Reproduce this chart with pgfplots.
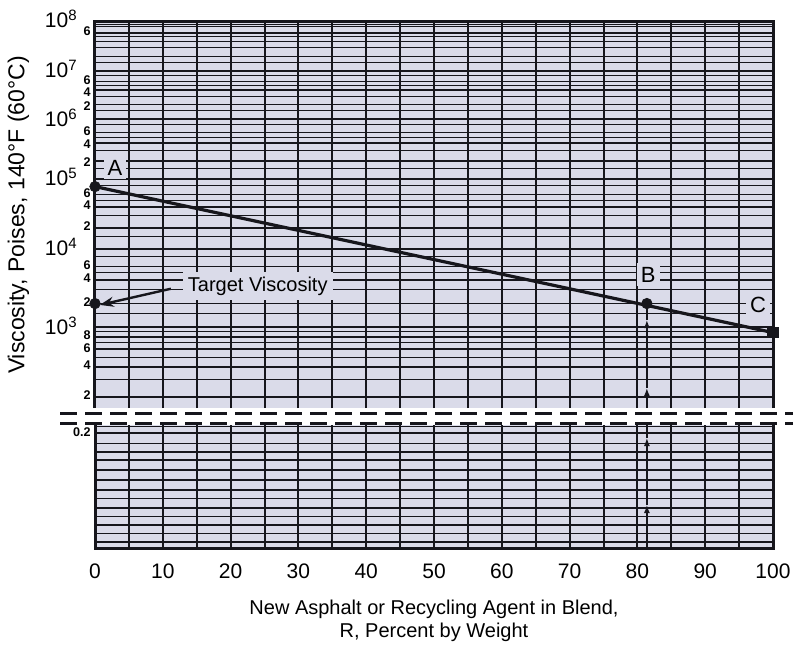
\documentclass[border=0pt]{standalone}
\usepackage{fontspec}
\setmainfont{Liberation Sans}
\usepackage{pgfplots}
\pgfplotsset{compat=1.18}
\usetikzlibrary{arrows.meta}
\definecolor{bgc}{RGB}{218,219,233}
\definecolor{gl}{RGB}{22,22,28}

% piecewise mapping of log10(viscosity) to chart position (px above the 10^3 line)
\newcommand\vtrafo[1]{%
  \begingroup
    \pgfkeys{/pgf/fpu=true,/pgf/fpu/output format=fixed}%
    \pgfmathparse{ln(#1)/2.302585093}%
    \xdef\vL{\pgfmathresult}%
  \endgroup
  \begingroup
    \pgfkeys{/pgf/fpu=false}%
    \ifdim\vL pt<3pt
      \pgfmathparse{100*(\vL-3)}%
    \else\ifdim\vL pt<4pt
      \pgfmathparse{78*(\vL-3)}%
    \else\ifdim\vL pt<5pt
      \pgfmathparse{78+70*(\vL-4)}%
    \else\ifdim\vL pt<6pt
      \pgfmathparse{148+60*(\vL-5)}%
    \else\ifdim\vL pt<7pt
      \pgfmathparse{208+48*(\vL-6)}%
    \else
      \pgfmathparse{256+49*(\vL-7)}%
    \fi\fi\fi\fi\fi
    \xdef\vP{\pgfmathresult}%
  \endgroup
  \let\pgfmathresult\vP
}
\newcommand\dec[1]{\mbox{10\raisebox{3.5pt}{\fontsize{7.5}{8}\selectfont #1}\kern 9pt}}
\newcommand\mn[1]{\mbox{\raisebox{-2.2pt}[0pt][0pt]{\fontsize{6.3}{7}\selectfont\bfseries #1}\kern 2pt}}
\newcommand\mnl[1]{\mbox{\raisebox{-3.8pt}[0pt][0pt]{\fontsize{6.3}{7}\selectfont\bfseries #1}\kern 2pt}}

\pgfplotsset{
  chartgrid/.style={
    scale only axis, width=339pt,
    xmin=0, xmax=100,
    axis line style={draw=none},
    axis background/.style={fill=bgc},
    xtick={0,10,...,100},
    extra x ticks={5,15,...,95}, extra x tick labels={},
    extra x tick style={grid=major, major grid style={gl,line width=1pt}},
    grid=both,
    major grid style={gl,line width=1pt},
    minor grid style={gl,line width=0.45pt},
    tick style={draw=none},
    major tick length=0pt, minor tick length=0pt,
    yticklabel style={font=\fontsize{10.5}{12}\selectfont, inner sep=0pt, anchor=east, yshift=0.8pt},
    clip=false,
  }
}

\begin{document}
\begin{tikzpicture}
\path[use as bounding box] (0pt,0pt) rectangle (396.5pt,-324.5pt);

% ---------- upper part ----------
\begin{axis}[chartgrid,
  at={(47.5pt,-204pt)}, anchor=south west, height=193pt,
  ymin=155, ymax=100000000,
  y coord trafo/.code={\vtrafo{#1}},
  scaled y ticks=false,
  xticklabels={},
  ytick={1000,10000,100000,1000000,10000000,100000000},
  yticklabels={\dec{3},\dec{4},\dec{5},\dec{6},\dec{7},\raisebox{2pt}{\dec{8}}},
  extra y ticks={200,400,600,800,2000,4000,6000,20000,40000,60000,200000,400000,600000,2000000,4000000,6000000,60000000},
  extra y tick labels={\mn{2},\mn{4},\mn{6},\mn{8},\mn{2},\mn{4},\mn{6},\mn{2},\mn{4},\mn{6},\mnl{2},\mnl{4},\mn{6},\mnl{2},\mnl{4},\mn{6},\mn{6}},
  extra y tick style={grid=major, major grid style={gl,line width=0.8pt}},
  minor ytick={300,500,700,900,1500,3000,5000,8000,15000,30000,50000,80000,150000,300000,500000,800000,1500000,3000000,5000000,8000000,15000000,20000000,30000000,40000000,50000000,80000000,90000000},
  ylabel={Viscosity, Poises, 140°F (60°C)},
  ylabel style={at={(axis description cs:-0.113,0.5)}, anchor=center, font=\fontsize{11.5}{12}\selectfont},
]
% vertical guide at B
\addplot[gl, line width=0.7pt, -{Latex[length=4pt,width=3pt]}] coordinates {(81.4,155) (81.4,245)};
\addplot[gl, line width=0.7pt, -{Latex[length=4pt,width=3pt]}] coordinates {(81.4,245) (81.4,1230)};
\addplot[gl, line width=0.7pt] coordinates {(81.4,1230) (81.4,2000)};
% blending line A-C
\addplot[gl, line width=1.6pt] coordinates {(0,78000) (100,880)};
\addplot[gl, only marks, mark=*, mark size=2.6pt] coordinates {(0,78000) (81.4,2000) (0,2000)};
\addplot[gl, only marks, mark=square*, mark size=2.6pt] coordinates {(100,880)};
% labels
\node[fill=bgc, inner sep=2pt, font=\fontsize{11}{12}\selectfont] at (rel axis cs:0.0295,0.622) {A};
\node[fill=bgc, inner sep=2pt, font=\fontsize{11}{12}\selectfont] at (rel axis cs:0.816,0.345) {B};
\node[fill=bgc, inner sep=2pt, font=\fontsize{11}{12}\selectfont] at (rel axis cs:0.978,0.267) {C};
\node[fill=bgc, inner sep=2.5pt, font=\fontsize{10}{12}\selectfont] at (rel axis cs:0.240,0.316) {Target Viscosity};
\draw[gl, line width=1.2pt, -{Stealth[length=7pt,width=5pt]}] (rel axis cs:0.112,0.309) -- (rel axis cs:0.007,0.267);
% frame (open at the break)
\draw[gl, line width=1.5pt] (rel axis cs:0,0) -- (rel axis cs:0,1) -- (rel axis cs:1,1) -- (rel axis cs:1,0);
\end{axis}

% ---------- lower part ----------
\begin{axis}[chartgrid,
  at={(47.5pt,-274pt)}, anchor=south west, height=61.5pt,
  ymin=0, ymax=123,
  /pgf/number format/assume math mode=true,
  xticklabel style={font=\fontsize{10.5}{12}\selectfont, inner sep=0pt, anchor=north, yshift=-7.5pt},
  ytick={6.3,23,39.7,58,78,96.3,114.7},
  yticklabels={,,,,,,\mn{0.2}},
  minor ytick={14.7,31.3,49.7,68,88,104.7,121.3},
  minor grid style={gl,line width=0.75pt},
  xlabel={New Asphalt or Recycling Agent in Blend,\\R, Percent by Weight},
  xlabel style={at={(axis description cs:0.5,0)}, anchor=north, yshift=-26pt, align=center, inner sep=0pt, font=\fontsize{10}{11.5}\selectfont},
]
\addplot[gl, line width=0.7pt, -{Latex[length=4pt,width=3pt]}] coordinates {(81.4,0) (81.4,43)};
\addplot[gl, line width=0.7pt, -{Latex[length=4pt,width=3pt]}] coordinates {(81.4,43) (81.4,110)};
\addplot[gl, line width=0.7pt] coordinates {(81.4,110) (81.4,123)};
\draw[gl, line width=1.5pt] (rel axis cs:0,1) -- (rel axis cs:0,0) -- (rel axis cs:1,0) -- (rel axis cs:1,1);
\end{axis}

% break marks
\draw[gl, line width=1.6pt, dash pattern=on 8.5pt off 4pt] (30pt,-206.6pt) -- (396.5pt,-206.6pt);
\draw[gl, line width=1.6pt, dash pattern=on 8.5pt off 4pt] (30pt,-211.6pt) -- (396.5pt,-211.6pt);
\end{tikzpicture}
\end{document}
